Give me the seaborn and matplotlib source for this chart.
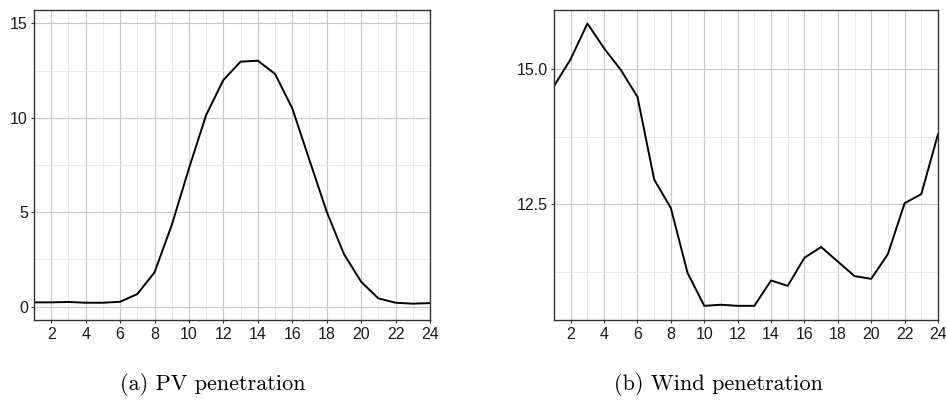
import numpy as np
import pandas as pd
import matplotlib
matplotlib.use("Agg")
import matplotlib.pyplot as plt
import seaborn as sns

hours = list(range(1, 25))
pv_values = [0.23, 0.23, 0.25, 0.21, 0.21, 0.26, 0.67, 1.82, 4.32, 7.32, 10.15, 12.0,
             12.97, 13.02, 12.32, 10.5, 7.76, 5.03, 2.79, 1.32, 0.44, 0.21, 0.16, 0.19]
wind_values = [14.69, 15.19, 15.85, 15.39, 14.99, 14.49, 12.96, 12.43, 11.23, 10.62, 10.64, 10.62,
               10.62, 11.09, 10.99, 11.51, 11.71, 11.44, 11.17, 11.12, 11.58, 12.52, 12.69, 13.80]
captions = ["(a) PV penetration", "(b) Wind penetration"]

sns.set_theme(style="whitegrid")
plt.rcParams['font.family'] = ['Liberation Sans', 'DejaVu Sans']

W, H = 946, 412
fig = plt.figure(figsize=(W / 100, H / 100), dpi=100)

def make_ax(x0, y0, x1, y1):
    return fig.add_axes([x0 / W, 1 - y1 / H, (x1 - x0) / W, (y1 - y0) / H])

ax1 = make_ax(34, 9.7, 430, 320.3)
ax2 = make_ax(554, 9.7, 938, 320.3)

df_pv = pd.DataFrame({"hour": hours, "value": pv_values})
df_wind = pd.DataFrame({"hour": hours, "value": wind_values})

sns.lineplot(data=df_pv, x="hour", y="value", ax=ax1, color="black", linewidth=1.4)
sns.lineplot(data=df_wind, x="hour", y="value", ax=ax2, color="black", linewidth=1.4)

ax1.set_ylim(-0.72, 15.72)
ax1.set_yticks([0, 5, 10, 15])
ax1.set_yticklabels(["0", "5", "10", "15"])
ax1.set_yticks([2.5, 7.5, 12.5], minor=True)

ax2.set_ylim(10.352, 16.105)
ax2.set_yticks([12.5, 15.0])
ax2.set_yticklabels(["12.5", "15.0"])
ax2.set_yticks([11.25, 13.75], minor=True)

for ax in (ax1, ax2):
    ax.set_xlim(1, 24)
    ax.set_xticks(list(range(2, 25, 2)))
    ax.set_xticklabels([str(h) for h in range(2, 25, 2)])
    ax.set_xticks(list(range(1, 25, 2)), minor=True)
    ax.set_xlabel("")
    ax.set_ylabel("")
    ax.set_facecolor("white")
    ax.grid(True, which="major", color="#c8c8c8", linewidth=0.8)
    ax.grid(True, which="minor", color="#e6e6e6", linewidth=0.6)
    ax.set_axisbelow(True)
    for s in ax.spines.values():
        s.set_color("#333333")
        s.set_linewidth(1.0)
        s.set_visible(True)
    ax.tick_params(axis="both", which="major", length=2.5, width=0.8, color="#333333",
                   labelsize=11.5, labelcolor="#1a1a1a", pad=2, bottom=True, left=True)
    ax.tick_params(axis="both", which="minor", length=0)

fig.text(213 / W, 1 - 385 / H, captions[0], ha="center", va="center",
         family="cmr10", fontsize=16, color="black")
fig.text(718 / W, 1 - 385 / H, captions[1], ha="center", va="center",
         family="cmr10", fontsize=16, color="black")

fig.savefig("out.png", dpi=100, facecolor="white")
